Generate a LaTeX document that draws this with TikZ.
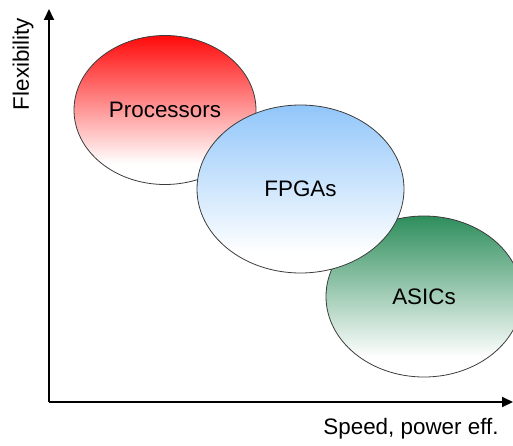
\documentclass[tikz,border=0pt]{standalone}
\usepackage{fontspec}
\setmainfont{Liberation Sans}
\usetikzlibrary{shapes.geometric,arrows.meta}
\definecolor{procred}{RGB}{255,10,10}
\definecolor{fpgablue}{RGB}{145,198,250}
\definecolor{asicgreen}{RGB}{46,142,92}
\definecolor{rimgray}{RGB}{60,60,60}
% vertical fades: full colour at the top, white over the lowest part
\pgfdeclareverticalshading{procfade}{100bp}{color(0bp)=(white); color(25bp)=(white); color(32bp)=(white); color(75bp)=(procred); color(100bp)=(procred)}
\pgfdeclareverticalshading{fpgafade}{100bp}{color(0bp)=(white); color(25bp)=(white); color(31bp)=(white); color(75bp)=(fpgablue); color(100bp)=(fpgablue)}
\pgfdeclareverticalshading{asicfade}{100bp}{color(0bp)=(white); color(25bp)=(white); color(31bp)=(white); color(75bp)=(asicgreen); color(100bp)=(asicgreen)}
\tikzset{
  blob/.style={ellipse, draw=rimgray, line width=0.8pt, inner sep=0pt,
    shade, font=\fontsize{22.4}{26}\selectfont},
  axisline/.style={line width=2pt, -{Triangle[width=10pt,length=11pt]}},
  axislabel/.style={font=\fontsize{22.4}{26}\selectfont, inner sep=0pt}
}
\begin{document}
\begin{tikzpicture}[x=1pt,y=1pt]
  \useasboundingbox (0,0) rectangle (513,445);
  \clip (0,0) rectangle (513,445);

  % axes
  \coordinate (origin) at (49,43);
  \coordinate (ytip) at (49,436);
  \coordinate (xtip) at (513,43);
  \draw[axisline] (origin) -- (ytip);
  \draw[axisline] (origin) -- (xtip);

  \node[axislabel, rotate=90] (flex) at (23,381) {Flexibility};
  \node[axislabel] (speed) at (411,16) {Speed, power eff.};

  % technology regions
  \node[blob, shading=procfade, minimum width=182pt, minimum height=149pt]
    (proc) at (165,335) {Processors};
  \node[blob, shading=asicfade, minimum width=196pt, minimum height=161pt]
    (asic) at (424,148.5) {ASICs};
  \node[blob, shading=fpgafade, minimum width=207pt, minimum height=168pt]
    (fpga) at (300.5,256) {FPGAs};
\end{tikzpicture}
\end{document}
